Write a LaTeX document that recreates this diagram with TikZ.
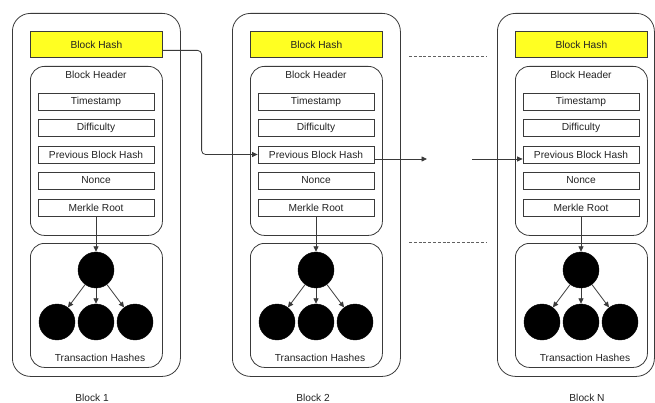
\documentclass[tikz,border=0pt]{standalone}
\usepackage{fontspec}
\setmainfont{Liberation Sans}
\usetikzlibrary{arrows.meta}
\definecolor{ln}{HTML}{3A3A3A}
\definecolor{tx}{HTML}{222222}
\definecolor{hy}{HTML}{FFFF22}
\tikzset{
  outerbox/.style={draw=ln, line width=0.8pt, rounded corners=18pt, anchor=north west, inner sep=0pt},
  innerbox/.style={draw=ln, line width=0.8pt, rounded corners=14pt, anchor=north west, inner sep=0pt, minimum width=132pt},
  hashbox/.style={draw=ln, line width=0.8pt, fill=hy, minimum width=132pt, minimum height=26pt, anchor=north west, inner sep=0pt, text=tx},
  fieldbox/.style={draw=ln, line width=0.8pt, minimum width=116pt, minimum height=17pt, inner sep=0pt, text=tx},
  txt/.style={text=tx, inner sep=0pt},
  hashdot/.style={circle, fill=black, draw=black, minimum size=36pt, inner sep=0pt},
  arr/.style={draw=ln, line width=0.8pt, -{Triangle[length=5.5pt,width=5pt]}},
  plain/.style={draw=ln, line width=0.8pt},
  dash line/.style={draw=ln!80, line width=0.7pt, dash pattern=on 3pt off 1.8pt}
}
\newcommand\drawblock[5]{%
\begin{scope}[xshift=#2pt]
  \node[outerbox, minimum width=#3pt, minimum height=363pt] (o-#1) at (12,13) {};
  \node[hashbox] (h-#1) at (30,31) {Block Hash};
  \node[innerbox, minimum height=169pt] (hd-#1) at (30,66) {};
  \node[txt] (bh-#1) at (96,75) {Block Header};
  \node[fieldbox] (f1-#1) at (96,101.5) {Timestamp};
  \node[fieldbox] (f2-#1) at (96,127.5) {Difficulty};
  \node[fieldbox] (p-#1) at (96,154.5) {Previous Block Hash};
  \node[fieldbox] (f4-#1) at (96,180.5) {Nonce};
  \node[fieldbox] (m-#1) at (96,207.5) {Merkle Root};
  \node[innerbox, minimum height=124pt] (tb-#1) at (30,243) {};
  \node[txt] (th-#1) at (100,358) {Transaction Hashes};
  \node[hashdot] (r-#1) at (96,270) {};
  \node[hashdot] (c1-#1) at (57,322) {};
  \node[hashdot] (c2-#1) at (96,322) {};
  \node[hashdot] (c3-#1) at (135,322) {};
  \draw[arr] (m-#1) -- (r-#1);
  \draw[arr] (r-#1) -- (c1-#1);
  \draw[arr] (r-#1) -- (c2-#1);
  \draw[arr] (r-#1) -- (c3-#1);
  \node[txt] (lbl-#1) at (#4,398) {#5};
\end{scope}}
\begin{document}
\begin{tikzpicture}[x=1pt,y=-1pt, font=\fontsize{10.2}{12}\selectfont]
\useasboundingbox (0,0) rectangle (655,403);
\drawblock{1}{0}{168}{92}{Block 1}
\drawblock{2}{220}{168}{93}{Block 2}
\drawblock{N}{485}{157}{102}{Block N}
% link from block 1 hash to block 2 previous hash
\draw[arr, rounded corners=4pt] ([yshift=-6pt]h-1.east) -| ([xshift=-56pt]p-2.west) -- (p-2.west);
% links across the gap
\coordinate (gapA) at (427,159);
\coordinate (gapB) at (472,159);
\draw[arr] (p-2.east |- gapA) -- (gapA);
\draw[arr] (gapB) -- (p-N.west |- gapB);
% dashed separators
\coordinate (dA1) at (409,56);
\coordinate (dA2) at (487,56);
\coordinate (dB1) at (409,242);
\coordinate (dB2) at (487,242);
\draw[dash line] (dA1) -- (dA2);
\draw[dash line] (dB1) -- (dB2);
\end{tikzpicture}
\end{document}
